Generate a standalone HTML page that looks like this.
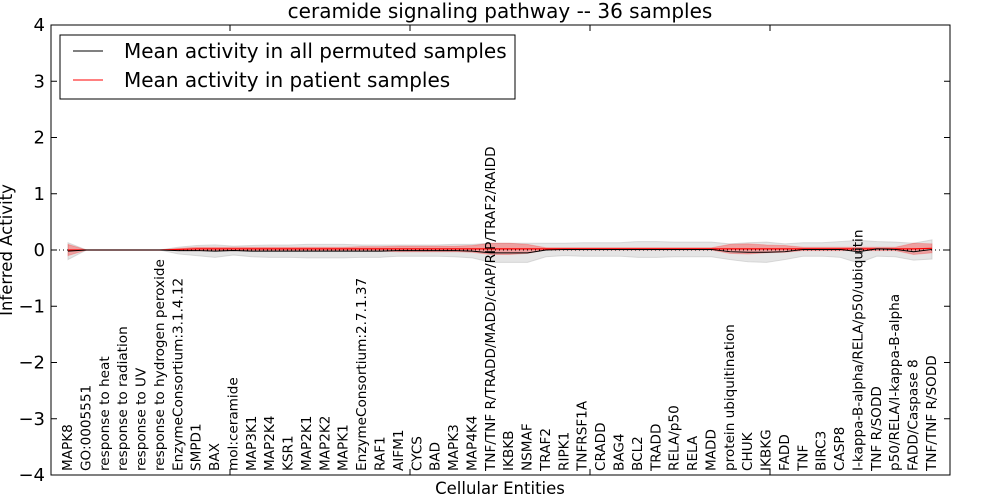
<!DOCTYPE html>
<html><head><meta charset="utf-8"><style>
body{margin:0;background:#fff;}
svg{display:block;font-family:"DejaVu Sans","Liberation Sans",sans-serif;}
</style></head><body>
<svg id="chart" width="1000" height="500" viewBox="0 0 1000 500">
<rect width="1000" height="500" fill="#fff"/>
<g id="bands"></g>
<g id="lines"></g>
<rect x="51" y="25" width="899" height="450" fill="none" stroke="#000" stroke-width="1"/>
<g id="ticks"></g>
<g id="xlabels"></g>
<text x="500" y="18" font-size="20" text-anchor="middle">ceramide signaling pathway -- 36 samples</text>
<text x="500" y="494" font-size="16.5" text-anchor="middle">Cellular Entities</text>
<text transform="translate(12,250) rotate(-90)" font-size="16.5" text-anchor="middle">Inferred Activity</text>
<g>
<rect x="60" y="35" width="455" height="64" fill="#fff" stroke="#000"/>
<line x1="73" y1="51" x2="103" y2="51" stroke="#000"/>
<text x="124" y="58" font-size="20">Mean activity in all permuted samples</text>
<line x1="73" y1="80" x2="103" y2="80" stroke="#f00"/>
<text x="124" y="87" font-size="20">Mean activity in patient samples</text>
</g>
</svg>
<script>
const categories=["MAPK8","GO:0005551","response to heat","response to radiation","response to UV","response to hydrogen peroxide","EnzymeConsortium:3.1.4.12","SMPD1","BAX","mol:ceramide","MAP3K1","MAP2K4","KSR1","MAP2K1","MAP2K2","MAPK1","EnzymeConsortium:2.7.1.37","RAF1","AIFM1","CYCS","BAD","MAPK3","MAP4K4","TNF/TNF R/TRADD/MADD/cIAP/RIP/TRAF2/RAIDD","IKBKB","NSMAF","TRAF2","RIPK1","TNFRSF1A","CRADD","BAG4","BCL2","TRADD","RELA/p50","RELA","MADD","protein ubiquitination","CHUK","IKBKG","FADD","TNF","BIRC3","CASP8","I-kappa-B-alpha/RELA/p50/ubiquitin","TNF R/SODD","p50/RELA/I-kappa-B-alpha","FADD/Caspase 8","TNF/TNF R/SODD"];
const permMean=[-0.02,0,0,0,0,0,-0.01,-0.01,-0.02,-0.01,-0.02,-0.02,-0.02,-0.02,-0.02,-0.02,-0.02,-0.02,-0.01,-0.01,-0.01,-0.01,-0.02,-0.05,-0.05,-0.05,0,0.01,0.01,0.01,0.01,0.01,0.01,0.01,0.01,0.01,-0.03,-0.04,-0.04,-0.03,0.01,0.01,0.01,-0.03,0.02,0.01,-0.03,0.01];
const permSpread=[0.15,0,0,0,0,0,0.06,0.09,0.11,0.08,0.1,0.11,0.11,0.12,0.12,0.12,0.11,0.11,0.1,0.1,0.1,0.11,0.12,0.17,0.17,0.17,0.12,0.11,0.12,0.12,0.12,0.14,0.14,0.13,0.13,0.13,0.14,0.17,0.18,0.14,0.12,0.12,0.14,0.2,0.13,0.13,0.15,0.17];
const patMean=[0,0,0,0,0,0,0.01,0.02,0.02,0.02,0.02,0.02,0.02,0.02,0.02,0.02,0.02,0.02,0.02,0.02,0.02,0.02,0.02,0.02,0.02,0.02,0.02,0.02,0.02,0.02,0.02,0.02,0.02,0.02,0.02,0.02,0.02,0.02,0.02,0.02,0.02,0.02,0.02,0.02,0.02,0.02,0.02,0.03];
const patSpread=[0.1,0,0,0,0,0,0.02,0.03,0.03,0.03,0.03,0.03,0.03,0.03,0.03,0.03,0.04,0.04,0.05,0.05,0.05,0.05,0.06,0.1,0.1,0.08,0.02,0.02,0.02,0.02,0.02,0.02,0.02,0.02,0.02,0.02,0.08,0.09,0.07,0.06,0.03,0.03,0.03,0.03,0.03,0.03,0.1,0.08];
const yTicks=[-4,-3,-2,-1,0,1,2,3,4];
const yTickLabels=["\u22124","\u22123","\u22122","\u22121","0","1","2","3","4"];
const NS="http://www.w3.org/2000/svg";
const X=i=>68+i*(864/(categories.length-1));
const Y=v=>250-v*56.25;
function mk(tag,attrs,parent){const e=document.createElementNS(NS,tag);for(const k in attrs)e.setAttribute(k,attrs[k]);parent.appendChild(e);return e;}
function band(mean,spread){let up=mean.map((m,i)=>X(i)+","+Y(m+spread[i]));let dn=mean.map((m,i)=>X(i)+","+Y(m-spread[i])).reverse();return up.concat(dn).join(" ");}
function line(arr){return arr.map((m,i)=>X(i)+","+Y(m)).join(" ");}
const bands=document.getElementById('bands'),lines=document.getElementById('lines');
let b1=mk('polygon',{points:band(permMean,permSpread),fill:"#ccc","fill-opacity":"0.5",stroke:"#bbb","stroke-opacity":"0.5"},bands);


let b2=mk('polygon',{points:band(patMean,patSpread),fill:"#f00","fill-opacity":"0.3",stroke:"#f00","stroke-opacity":"0.2"},bands);


let zl=mk('line',{x1:51,x2:950,y1:Y(0),y2:Y(0),stroke:"#000","stroke-dasharray":"1,3","stroke-width":1},lines);


let l2=mk('polyline',{points:line(patMean),fill:"none",stroke:"#f00","stroke-width":1.2},lines);


let l1=mk('polyline',{points:line(permMean),fill:"none",stroke:"#000","stroke-width":1},lines);


const ticks=document.getElementById('ticks');
yTicks.forEach((t,k)=>{
 const y=Y(t);
 let a=mk('line',{x1:51,x2:57,y1:y,y2:y,stroke:"#000"},ticks);
 
 
 let b=mk('line',{x1:944,x2:950,y1:y,y2:y,stroke:"#000"},ticks);
 
 
 let tx=mk('text',{x:45,y:y+6,"font-size":18,"text-anchor":"end"},ticks);
 tx.textContent=yTickLabels[k];
 
 
});
[230,410,590,770].forEach(x=>{
 let a=mk('line',{x1:x,x2:x,y1:25,y2:31,stroke:"#000"},ticks);
 
 
 let b=mk('line',{x1:x,x2:x,y1:469,y2:475,stroke:"#000"},ticks);
 
 
});
const xl=document.getElementById('xlabels');
categories.forEach((c,i)=>{
 let t=mk('text',{transform:"translate("+(X(i)+4)+",471) rotate(-90)","font-size":13.6},xl);
 t.textContent=c;
 
 
});
</script>
</body></html>
